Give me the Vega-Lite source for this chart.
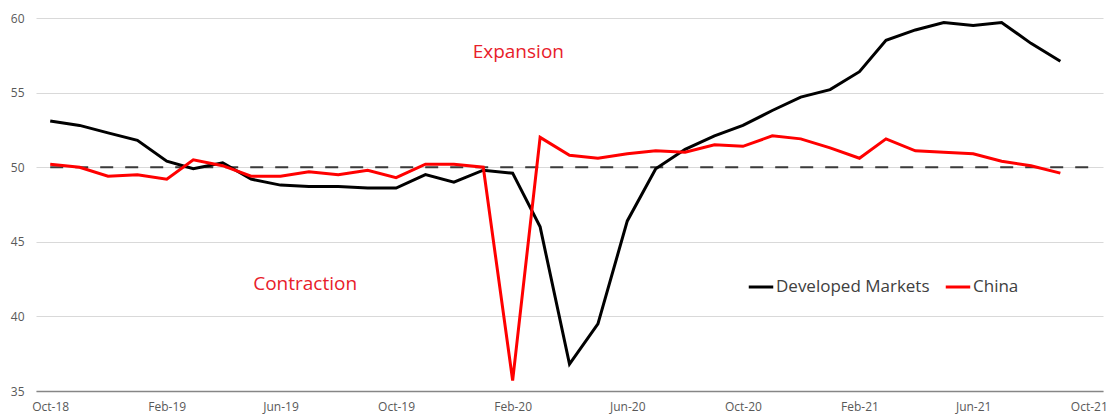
{
  "$schema": "https://vega.github.io/schema/vega-lite/v6.json",
  "width": 1067,
  "height": 373,
  "autosize": "none",
  "padding": {"left": 36, "top": 18, "right": 5, "bottom": 23},
  "background": "white",
  "config": {
    "view": {"stroke": null},
    "font": "Open Sans",
    "axis": {"labelFont": "Open Sans", "labelFontSize": 12, "labelColor": "#595959", "ticks": false, "title": null}
  },
  "datasets": {
    "pmi": [
      {"date": "2018-10-01", "series": "Developed Markets", "value": 53.1},
      {"date": "2018-11-01", "series": "Developed Markets", "value": 52.8},
      {"date": "2018-12-01", "series": "Developed Markets", "value": 52.3},
      {"date": "2019-01-01", "series": "Developed Markets", "value": 51.8},
      {"date": "2019-02-01", "series": "Developed Markets", "value": 50.4},
      {"date": "2019-03-01", "series": "Developed Markets", "value": 49.9},
      {"date": "2019-04-01", "series": "Developed Markets", "value": 50.3},
      {"date": "2019-05-01", "series": "Developed Markets", "value": 49.2},
      {"date": "2019-06-01", "series": "Developed Markets", "value": 48.8},
      {"date": "2019-07-01", "series": "Developed Markets", "value": 48.7},
      {"date": "2019-08-01", "series": "Developed Markets", "value": 48.7},
      {"date": "2019-09-01", "series": "Developed Markets", "value": 48.6},
      {"date": "2019-10-01", "series": "Developed Markets", "value": 48.6},
      {"date": "2019-11-01", "series": "Developed Markets", "value": 49.5},
      {"date": "2019-12-01", "series": "Developed Markets", "value": 49.0},
      {"date": "2020-01-01", "series": "Developed Markets", "value": 49.8},
      {"date": "2020-02-01", "series": "Developed Markets", "value": 49.6},
      {"date": "2020-03-01", "series": "Developed Markets", "value": 46.0},
      {"date": "2020-04-01", "series": "Developed Markets", "value": 36.8},
      {"date": "2020-05-01", "series": "Developed Markets", "value": 39.5},
      {"date": "2020-06-01", "series": "Developed Markets", "value": 46.4},
      {"date": "2020-07-01", "series": "Developed Markets", "value": 49.9},
      {"date": "2020-08-01", "series": "Developed Markets", "value": 51.2},
      {"date": "2020-09-01", "series": "Developed Markets", "value": 52.1},
      {"date": "2020-10-01", "series": "Developed Markets", "value": 52.8},
      {"date": "2020-11-01", "series": "Developed Markets", "value": 53.8},
      {"date": "2020-12-01", "series": "Developed Markets", "value": 54.7},
      {"date": "2021-01-01", "series": "Developed Markets", "value": 55.2},
      {"date": "2021-02-01", "series": "Developed Markets", "value": 56.4},
      {"date": "2021-03-01", "series": "Developed Markets", "value": 58.5},
      {"date": "2021-04-01", "series": "Developed Markets", "value": 59.2},
      {"date": "2021-05-01", "series": "Developed Markets", "value": 59.7},
      {"date": "2021-06-01", "series": "Developed Markets", "value": 59.5},
      {"date": "2021-07-01", "series": "Developed Markets", "value": 59.7},
      {"date": "2021-08-01", "series": "Developed Markets", "value": 58.3},
      {"date": "2021-09-01", "series": "Developed Markets", "value": 57.1},
      {"date": "2018-10-01", "series": "China", "value": 50.2},
      {"date": "2018-11-01", "series": "China", "value": 50.0},
      {"date": "2018-12-01", "series": "China", "value": 49.4},
      {"date": "2019-01-01", "series": "China", "value": 49.5},
      {"date": "2019-02-01", "series": "China", "value": 49.2},
      {"date": "2019-03-01", "series": "China", "value": 50.5},
      {"date": "2019-04-01", "series": "China", "value": 50.1},
      {"date": "2019-05-01", "series": "China", "value": 49.4},
      {"date": "2019-06-01", "series": "China", "value": 49.4},
      {"date": "2019-07-01", "series": "China", "value": 49.7},
      {"date": "2019-08-01", "series": "China", "value": 49.5},
      {"date": "2019-09-01", "series": "China", "value": 49.8},
      {"date": "2019-10-01", "series": "China", "value": 49.3},
      {"date": "2019-11-01", "series": "China", "value": 50.2},
      {"date": "2019-12-01", "series": "China", "value": 50.2},
      {"date": "2020-01-01", "series": "China", "value": 50.0},
      {"date": "2020-02-01", "series": "China", "value": 35.7},
      {"date": "2020-03-01", "series": "China", "value": 52.0},
      {"date": "2020-04-01", "series": "China", "value": 50.8},
      {"date": "2020-05-01", "series": "China", "value": 50.6},
      {"date": "2020-06-01", "series": "China", "value": 50.9},
      {"date": "2020-07-01", "series": "China", "value": 51.1},
      {"date": "2020-08-01", "series": "China", "value": 51.0},
      {"date": "2020-09-01", "series": "China", "value": 51.5},
      {"date": "2020-10-01", "series": "China", "value": 51.4},
      {"date": "2020-11-01", "series": "China", "value": 52.1},
      {"date": "2020-12-01", "series": "China", "value": 51.9},
      {"date": "2021-01-01", "series": "China", "value": 51.3},
      {"date": "2021-02-01", "series": "China", "value": 50.6},
      {"date": "2021-03-01", "series": "China", "value": 51.9},
      {"date": "2021-04-01", "series": "China", "value": 51.1},
      {"date": "2021-05-01", "series": "China", "value": 51.0},
      {"date": "2021-06-01", "series": "China", "value": 50.9},
      {"date": "2021-07-01", "series": "China", "value": 50.4},
      {"date": "2021-08-01", "series": "China", "value": 50.1},
      {"date": "2021-09-01", "series": "China", "value": 49.6}
    ],
    "threshold": [
      {"start": "2018-10-01", "end": "2021-10-01", "level": 50}
    ],
    "notes": [
      {"date": "2020-02-07", "value": 57.7, "label": "Expansion"},
      {"date": "2019-06-27", "value": 42.2, "label": "Contraction"}
    ]
  },
  "layer": [
    {
      "data": {"name": "threshold"},
      "mark": {"type": "rule", "color": "#3a3a3a", "strokeWidth": 2, "strokeDash": [13, 12]},
      "encoding": {
        "x": {
          "field": "start", "type": "temporal",
          "scale": {"type": "utc", "domain": ["2018-09-16", "2021-10-16"]},
          "axis": {
            "format": "%b-%y",
            "values": [
              {"year": 2018, "month": 10, "date": 1, "utc": true},
              {"year": 2019, "month": 2, "date": 1, "utc": true},
              {"year": 2019, "month": 6, "date": 1, "utc": true},
              {"year": 2019, "month": 10, "date": 1, "utc": true},
              {"year": 2020, "month": 2, "date": 1, "utc": true},
              {"year": 2020, "month": 6, "date": 1, "utc": true},
              {"year": 2020, "month": 10, "date": 1, "utc": true},
              {"year": 2021, "month": 2, "date": 1, "utc": true},
              {"year": 2021, "month": 6, "date": 1, "utc": true},
              {"year": 2021, "month": 10, "date": 1, "utc": true}
            ],
            "grid": false,
            "domain": true,
            "domainColor": "#868686",
            "domainWidth": 1.5,
            "labelPadding": 10,
            "labelOverlap": false,
            "labelBound": false,
            "labelFlush": false
          }
        },
        "x2": {"field": "end"},
        "y": {
          "field": "level", "type": "quantitative",
          "scale": {"domain": [35, 60], "nice": false, "zero": false},
          "axis": {
            "values": [35, 40, 45, 50, 55, 60],
            "grid": true,
            "gridColor": "#d9d9d9",
            "gridWidth": 1,
            "domain": false,
            "labelPadding": 12
          }
        }
      }
    },
    {
      "data": {"name": "pmi"},
      "mark": {"type": "line", "strokeWidth": 3, "strokeJoin": "miter"},
      "encoding": {
        "x": {"field": "date", "type": "temporal"},
        "y": {"field": "value", "type": "quantitative"},
        "color": {
          "field": "series", "type": "nominal",
          "scale": {"domain": ["Developed Markets", "China"], "range": ["#000000", "#ff0000"]},
          "legend": {
            "title": null,
            "orient": "none",
            "direction": "horizontal",
            "legendX": 711,
            "legendY": 255,
            "symbolType": "stroke",
            "symbolSize": 600,
            "symbolStrokeWidth": 3,
            "labelFont": "Open Sans",
            "labelFontSize": 17,
            "labelColor": "#404040",
            "labelOffset": 1,
            "columnPadding": 9
          }
        }
      }
    },
    {
      "data": {"name": "notes"},
      "mark": {"type": "text", "color": "#e8202a", "fontSize": 19, "font": "Open Sans", "align": "center", "baseline": "middle"},
      "encoding": {
        "x": {"field": "date", "type": "temporal"},
        "y": {"field": "value", "type": "quantitative"},
        "text": {"field": "label"}
      }
    }
  ]
}
